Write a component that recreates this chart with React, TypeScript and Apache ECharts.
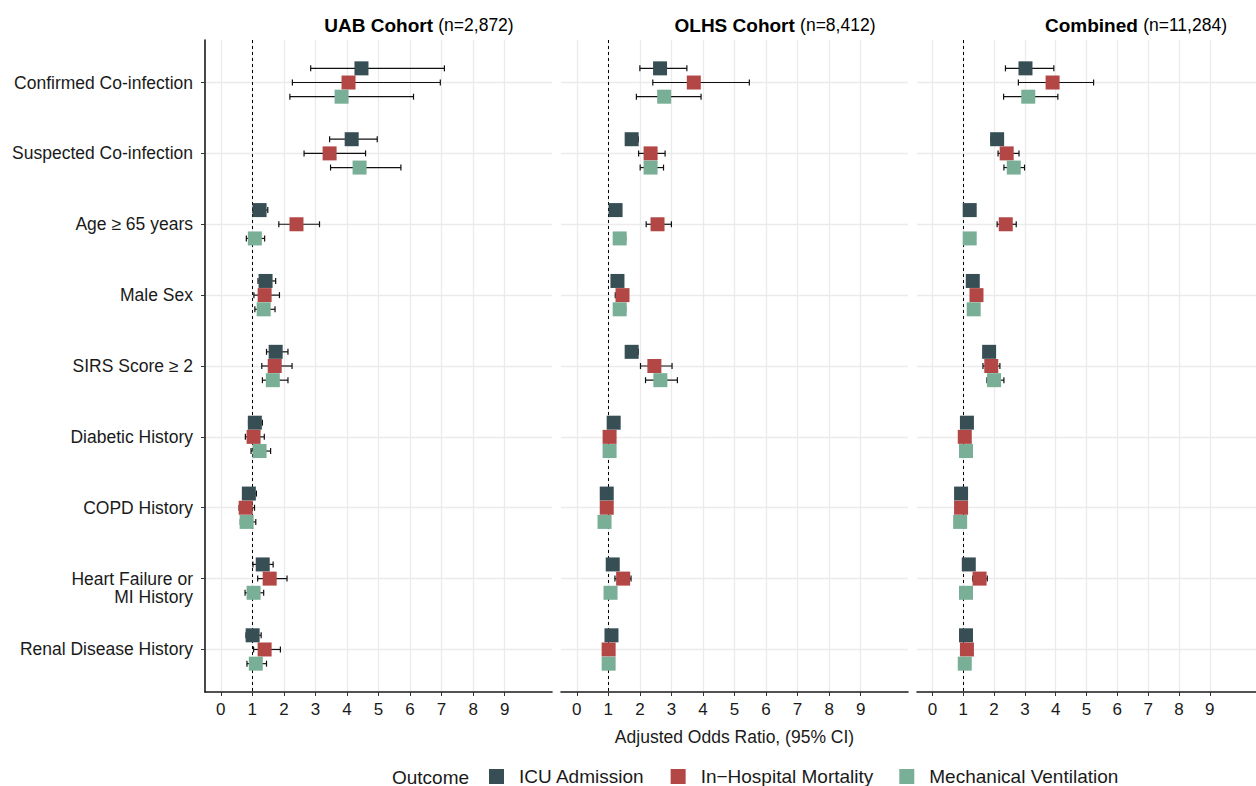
import React, { useEffect, useRef } from "react";
import * as echarts from "echarts";

const categories = [
  "Confirmed Co-infection",
  "Suspected Co-infection",
  "Age \u2265 65 years",
  "Male Sex",
  "SIRS Score \u2265 2",
  "Diabetic History",
  "COPD History",
  "Heart Failure or\nMI History",
  "Renal Disease History",
];

const outcomes = ["ICU Admission", "In\u2212Hospital Mortality", "Mechanical Ventilation"];
const outcomeColors = ["#374E55", "#B24745", "#79AF97"];
const xTicks = [0, 1, 2, 3, 4, 5, 6, 7, 8, 9];

const panelTitles = ["UAB Cohort", "OLHS Cohort", "Combined"];
const panelN = ["(n=2,872)", "(n=8,412)", "(n=11,284)"];

// UAB cohort
const uabIcuEst = [4.46, 4.15, 1.23, 1.42, 1.74, 1.08, 0.89, 1.33, 1.01];
const uabIcuLo = [2.85, 3.45, 1.02, 1.18, 1.45, 0.88, 0.7, 1.02, 0.8];
const uabIcuHi = [7.09, 4.96, 1.49, 1.74, 2.13, 1.32, 1.13, 1.66, 1.28];
const uabMortEst = [4.05, 3.45, 2.4, 1.39, 1.71, 1.04, 0.79, 1.55, 1.39];
const uabMortLo = [2.27, 2.64, 1.84, 1.05, 1.3, 0.78, 0.58, 1.17, 1.04];
const uabMortHi = [6.96, 4.59, 3.13, 1.86, 2.26, 1.38, 1.07, 2.1, 1.89];
const uabMvEst = [3.83, 4.4, 1.08, 1.36, 1.65, 1.23, 0.82, 1.04, 1.11];
const uabMvLo = [2.19, 3.48, 0.81, 1.08, 1.32, 0.96, 0.62, 0.77, 0.83];
const uabMvHi = [6.11, 5.71, 1.39, 1.72, 2.13, 1.58, 1.11, 1.36, 1.45];

// OLHS cohort
const olhsIcuEst = [2.64, 1.74, 1.23, 1.29, 1.74, 1.17, 0.95, 1.14, 1.1];
const olhsIcuLo = [2.0, 1.55, 1.08, 1.12, 1.55, 1.02, 0.82, 1.0, 0.96];
const olhsIcuHi = [3.49, 1.95, 1.4, 1.47, 1.95, 1.33, 1.1, 1.3, 1.26];
const olhsMortEst = [3.71, 2.34, 2.56, 1.45, 2.46, 1.04, 0.95, 1.47, 1.01];
const olhsMortLo = [2.41, 1.96, 2.2, 1.22, 2.02, 0.9, 0.82, 1.21, 0.87];
const olhsMortHi = [5.47, 2.8, 3.0, 1.62, 3.02, 1.2, 1.1, 1.72, 1.17];
const olhsMvEst = [2.77, 2.34, 1.36, 1.36, 2.65, 1.04, 0.88, 1.07, 1.01];
const olhsMvLo = [1.89, 2.01, 1.18, 1.2, 2.18, 0.9, 0.75, 0.92, 0.87];
const olhsMvHi = [3.94, 2.75, 1.55, 1.55, 3.19, 1.2, 1.03, 1.24, 1.17];

// Combined
const combIcuEst = [3.02, 2.1, 1.21, 1.31, 1.84, 1.12, 0.93, 1.18, 1.09];
const combIcuLo = [2.37, 1.9, 1.08, 1.17, 1.68, 1.0, 0.83, 1.06, 0.97];
const combIcuHi = [3.94, 2.3, 1.36, 1.46, 2.0, 1.24, 1.04, 1.31, 1.21];
const combMortEst = [3.9, 2.41, 2.38, 1.43, 1.91, 1.05, 0.93, 1.53, 1.12];
const combMortLo = [2.79, 2.13, 2.1, 1.29, 1.64, 0.93, 0.82, 1.31, 0.99];
const combMortHi = [5.23, 2.81, 2.72, 1.58, 2.19, 1.18, 1.05, 1.78, 1.25];
const combMvEst = [3.11, 2.64, 1.21, 1.34, 2.0, 1.09, 0.9, 1.09, 1.05];
const combMvLo = [2.31, 2.32, 1.06, 1.2, 1.77, 0.97, 0.79, 0.97, 0.93];
const combMvHi = [4.07, 2.99, 1.37, 1.49, 2.32, 1.22, 1.02, 1.22, 1.18];

const panels = [
  [
    [uabIcuEst, uabIcuLo, uabIcuHi],
    [uabMortEst, uabMortLo, uabMortHi],
    [uabMvEst, uabMvLo, uabMvHi],
  ],
  [
    [olhsIcuEst, olhsIcuLo, olhsIcuHi],
    [olhsMortEst, olhsMortLo, olhsMortHi],
    [olhsMvEst, olhsMvLo, olhsMvHi],
  ],
  [
    [combIcuEst, combIcuLo, combIcuHi],
    [combMortEst, combMortLo, combMortHi],
    [combMvEst, combMvLo, combMvHi],
  ],
];

const dodge = [-0.2, 0, 0.2];
const FONT = "'Liberation Sans', Arial, Helvetica, sans-serif";

export default function App() {
  const ref = useRef<HTMLDivElement>(null);

  useEffect(() => {
    document.body.style.margin = "0";
    if (!ref.current) return;
    const chart = echarts.init(ref.current, undefined, { renderer: "svg" });

    const gridLefts = [205, 561, 917];
    const titleCenters = [419, 775, 1136];
    const yTicks = categories.map((_, i) => i + 1);

    const grids = gridLefts.map((l) => ({ left: l, top: 40, width: 347, height: 652 }));

    const xAxes = gridLefts.map((_, gi) => ({
      type: "value",
      gridIndex: gi,
      min: -0.5,
      max: 10.5,
      position: "bottom",
      axisLine: { show: true, onZero: false, lineStyle: { color: "#1a1a1a", width: 1.6 } },
      axisTick: { show: true, length: 4, customValues: xTicks, lineStyle: { color: "#333", width: 1 } },
      axisLabel: {
        show: true,
        customValues: xTicks,
        fontSize: 17,
        color: "#1a1a1a",
        fontFamily: FONT,
        margin: 9,
      },
      splitLine: { show: true, lineStyle: { color: "#ebebeb", width: 1.3 } },
      name: gi === 1 ? "Adjusted Odds Ratio, (95% CI)" : "",
      nameLocation: "middle",
      nameGap: 36,
      nameTextStyle: { fontSize: 17.5, color: "#1a1a1a", fontFamily: FONT, verticalAlign: "top" },
    }));

    const yAxes = gridLefts.map((_, gi) => ({
      type: "value",
      gridIndex: gi,
      min: 0.4,
      max: 9.6,
      inverse: true,
      axisLine: { show: gi === 0, onZero: false, lineStyle: { color: "#1a1a1a", width: 1.6 } },
      axisTick: { show: gi === 0, length: 4, customValues: yTicks, lineStyle: { color: "#333", width: 1 } },
      axisLabel: {
        show: gi === 0,
        customValues: yTicks,
        formatter: (v: number) => {
          const lab = categories[Math.round(v) - 1] || "";
          return lab.indexOf("\n") >= 0 ? "\n" + lab : lab;
        },
        fontSize: 17.5,
        lineHeight: 18,
        color: "#1a1a1a",
        fontFamily: FONT,
        margin: 12,
      },
      splitLine: { show: true, lineStyle: { color: "#ebebeb", width: 1.3 } },
    }));

    const series: any[] = [];
    panels.forEach((panel, gi) => {
      panel.forEach(([est, lo, hi], oi) => {
        const errData = categories.map((_, ci) => [lo[ci], hi[ci], ci + 1 + dodge[oi]]);
        const s: any = {
          type: "custom",
          name: outcomes[oi] + " CI",
          xAxisIndex: gi,
          yAxisIndex: gi,
          z: 2,
          silent: true,
          encode: { x: [0, 1], y: 2 },
          data: errData,
          renderItem: (_params: any, api: any) => {
            const y = api.value(2);
            const p1 = api.coord([api.value(0), y]);
            const p2 = api.coord([api.value(1), y]);
            const h = 3;
            const style = { stroke: "#111", lineWidth: 1.2 };
            return {
              type: "group",
              children: [
                { type: "line", shape: { x1: p1[0], y1: p1[1], x2: p2[0], y2: p2[1] }, style },
                { type: "line", shape: { x1: p1[0], y1: p1[1] - h, x2: p1[0], y2: p1[1] + h }, style },
                { type: "line", shape: { x1: p2[0], y1: p2[1] - h, x2: p2[0], y2: p2[1] + h }, style },
              ],
            };
          },
        };
        if (oi === 0) {
          s.markLine = {
            silent: true,
            symbol: ["none", "none"],
            label: { show: false },
            lineStyle: { type: [3, 3], color: "#000", width: 1 },
            data: [{ xAxis: 1 }],
            z: 1,
          };
        }
        series.push(s);
        series.push({
          type: "scatter",
          name: outcomes[oi],
          xAxisIndex: gi,
          yAxisIndex: gi,
          symbol: "rect",
          symbolSize: 14,
          z: 3,
          itemStyle: { color: outcomeColors[oi], opacity: 1 },
          data: categories.map((_, ci) => [est[ci], ci + 1 + dodge[oi]]),
        });
      });
    });

    const graphics: any[] = titleCenters.map((cx, i) => ({
      type: "text",
      x: cx,
      y: 25,
      style: {
        text: `{b|${panelTitles[i]} }{n|${panelN[i]}}`,
        align: "center",
        verticalAlign: "middle",
        rich: {
          b: { fontSize: 19, fontWeight: "bold", fontFamily: FONT, fill: "#000", color: "#000" },
          n: { fontSize: 17.5, fontFamily: FONT, fill: "#000", color: "#000" },
        },
      },
    }));
    graphics.push({
      type: "text",
      x: 392,
      y: 777,
      style: {
        text: "Outcome",
        fontSize: 19,
        fontFamily: FONT,
        fill: "#1a1a1a",
        align: "left",
        verticalAlign: "middle",
      },
    });

    chart.setOption({
      animation: false,
      backgroundColor: "#ffffff",
      grid: grids,
      xAxis: xAxes,
      yAxis: yAxes,
      series,
      graphic: graphics,
      legend: {
        data: outcomes,
        left: 489,
        top: 767,
        padding: 0,
        icon: "rect",
        itemWidth: 15,
        itemHeight: 15,
        itemGap: 26,
        selectedMode: false,
        formatter: (name: string) => `{g|}{t|${name}}`,
        textStyle: {
          fontSize: 19,
          fontFamily: FONT,
          color: "#1a1a1a",
          rich: {
            g: { width: 10, fontSize: 19 },
            t: { fontSize: 19, fontFamily: FONT, color: "#1a1a1a" },
          },
        },
      },
    });

    return () => chart.dispose();
  }, []);

  return <div ref={ref} style={{ width: 1256, height: 786 }} />;
}
